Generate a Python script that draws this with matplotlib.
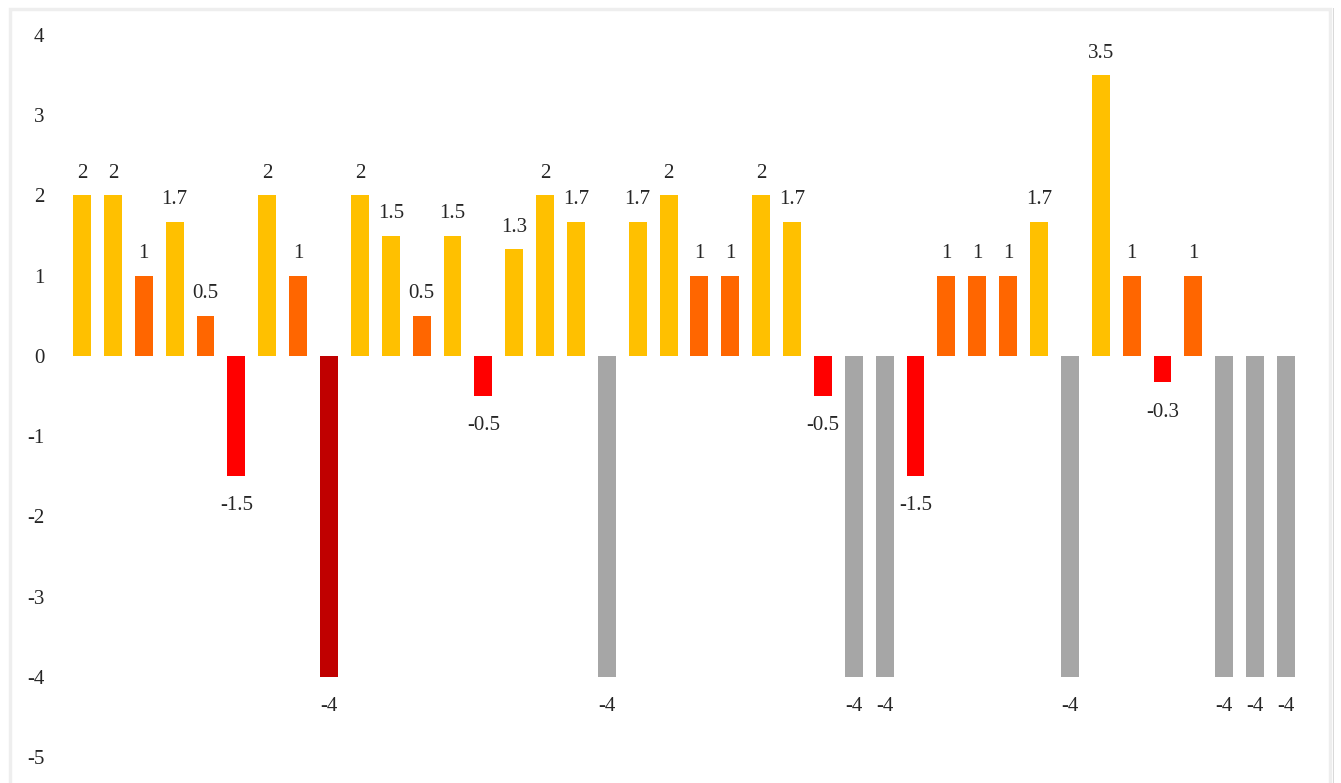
import matplotlib
matplotlib.use("Agg")
import matplotlib.pyplot as plt
from matplotlib.patches import Rectangle

values = [2, 2, 1, 1.67, 0.5, -1.5, 2, 1, -4, 2,
          1.5, 0.5, 1.5, -0.5, 1.33, 2, 1.67, -4, 1.67, 2,
          1, 1, 2, 1.67, -0.5, -4, -4, -1.5, 1, 1,
          1, 1.67, -4, 3.5, 1, -0.33, 1, -4, -4, -4]
groups = ["Y", "Y", "O", "Y", "O", "R", "Y", "O", "D", "Y",
          "Y", "O", "Y", "R", "Y", "Y", "Y", "G", "Y", "Y",
          "O", "O", "Y", "Y", "R", "G", "G", "R", "O", "O",
          "O", "Y", "G", "Y", "O", "R", "O", "G", "G", "G"]
palette = {"Y": "#FFC000", "O": "#FF6600", "R": "#FF0000",
           "D": "#C00000", "G": "#A6A6A6"}
yticks = [4, 3, 2, 1, 0, -1, -2, -3, -4, -5]

plt.rcParams['font.family'] = ['Liberation Serif', 'DejaVu Serif']

W, H = 1341, 783
fig = plt.figure(figsize=(W / 100, H / 100), dpi=100)
fig.patch.set_facecolor("white")

left, right = 66.6, 1301.4
top, bottom = 35, 757
ax = fig.add_axes([left / W, (H - bottom) / H, (right - left) / W, (bottom - top) / H])

x = list(range(len(values)))
colors = [palette[g] for g in groups]
ax.bar(x, values, width=0.58, color=colors, zorder=2)

for xi, v in zip(x, values):
    lab = f"{round(v, 1):g}"
    if v >= 0:
        ax.annotate(lab, (xi, v), xytext=(0, 9), textcoords="offset points",
                    ha="center", va="bottom", fontsize=15, color="#262626")
    else:
        ax.annotate(lab, (xi, v), xytext=(0, -14.5), textcoords="offset points",
                    ha="center", va="top", fontsize=15, color="#262626")

ax.set_xlim(-0.5, len(values) - 0.5)
ax.set_ylim(-5, 4)
ax.set_yticks(yticks)
ax.set_yticklabels([str(t) for t in yticks], fontsize=15, color="#262626")
ax.tick_params(axis="y", length=0, pad=16)
ax.set_xticks([])
for s in ax.spines.values():
    s.set_visible(False)
ax.patch.set_alpha(0)

# light outer frame
fig.add_artist(Rectangle((10 / W, -0.05), (1320 / W), (H - 9) / H + 0.05,
                         transform=fig.transFigure, fill=False,
                         edgecolor="#EEEEEE", linewidth=2.5, zorder=0))
fig.add_artist(Rectangle((1333 / W, 0), 1.2 / W, (H - 8) / H,
                         transform=fig.transFigure, facecolor="#D9D9D9",
                         edgecolor="none", zorder=0))

fig.savefig("out.png", dpi=100)
